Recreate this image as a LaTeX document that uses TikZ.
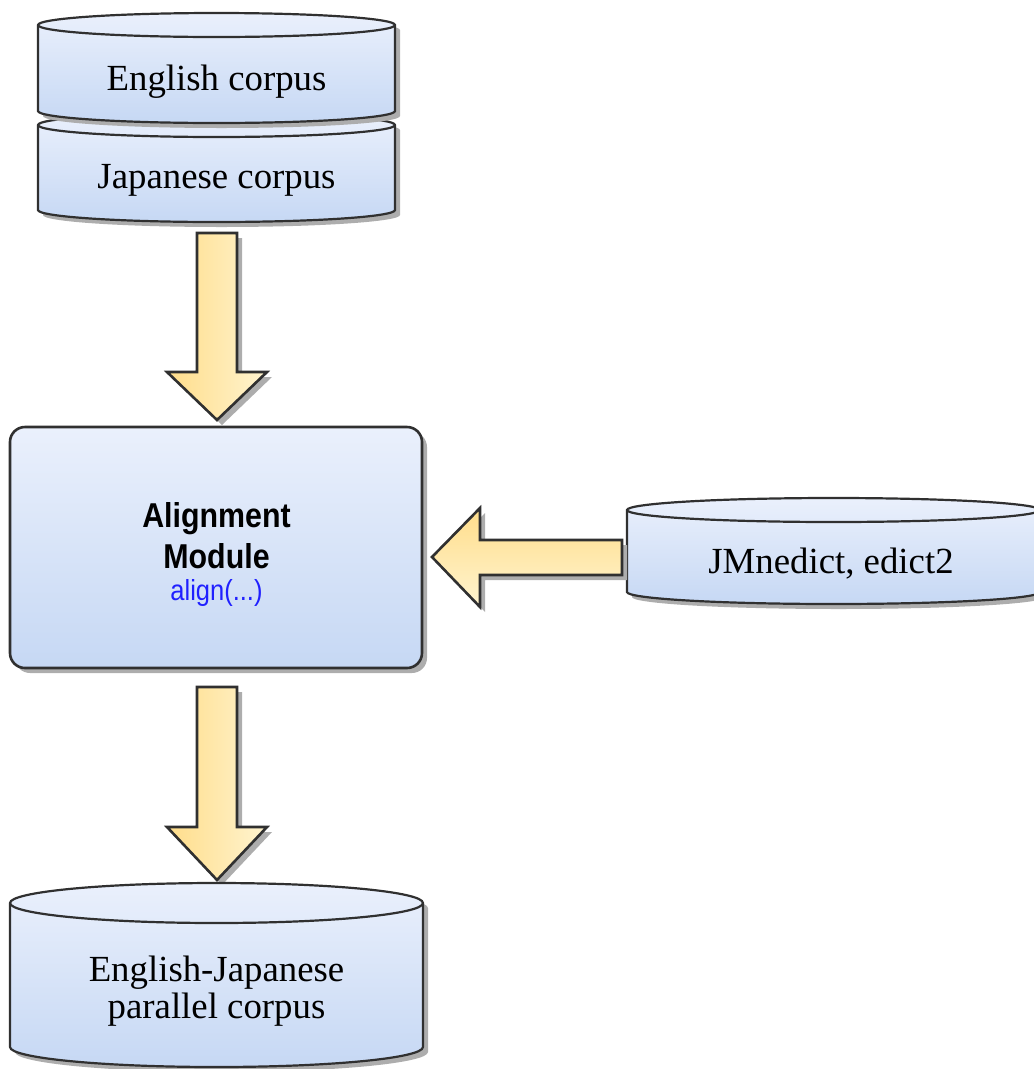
\documentclass[tikz,border=0pt]{standalone}
\usepackage{fontspec}
\setmainfont{Liberation Serif}
\newfontfamily\modfont[FakeStretch=0.88]{Liberation Sans}
\usetikzlibrary{shadows}
\definecolor{cyltop}{HTML}{EAF0FC}
\definecolor{cylbot}{HTML}{C6D8F4}
\definecolor{arrdark}{HTML}{FFDD8A}
\definecolor{arrlight}{HTML}{FFF4D0}
\definecolor{edge}{HTML}{303030}
\definecolor{codeblue}{HTML}{2020FF}
\tikzset{
  myshadow/.style={drop shadow={shadow xshift=5pt, shadow yshift=-5pt, fill=black!32, opacity=1}},
  cylstyle/.style={draw=edge, line width=2.2pt, top color=cyltop, bottom color=cylbot, myshadow},
  cylline/.style={draw=edge, line width=2.2pt},
  modbox/.style={draw=edge, line width=2.6pt, rounded corners=15pt, top color=cyltop, bottom color=cylbot, myshadow, inner sep=0pt},
  vblock/.style={draw=edge, line width=2.6pt, left color=arrdark, right color=arrlight, myshadow},
  hblock/.style={draw=edge, line width=2.6pt, top color=arrdark, bottom color=arrlight, myshadow},
  serif/.style={font=\fontsize{36.8}{36.5}\selectfont, inner sep=0pt, align=center},
  modtxt/.style={font=\modfont\bfseries\fontsize{34.5}{37}\selectfont, inner sep=0pt},
  codetxt/.style={font=\modfont\fontsize{29}{30}\selectfont, text=codeblue, inner sep=0pt}
}
% #1 x1, #2 x2, #3 y of top ellipse centre, #4 y where sides end, #5 ry (pixels, y down)
\newcommand\mycyl[5]{%
  \pgfmathsetmacro\myrx{(#2-#1)/2}%
  \path[cylstyle] (#1,-#3) -- (#1,-#4)
     arc[start angle=180,end angle=360,x radius=\myrx pt,y radius=#5pt]
     -- (#2,-#3)
     arc[start angle=0,end angle=180,x radius=\myrx pt,y radius=#5pt] -- cycle;
  \draw[cylline] (#1,-#3) arc[start angle=180,end angle=360,x radius=\myrx pt,y radius=#5pt];
}
\begin{document}
\begin{tikzpicture}[x=1pt,y=1pt]
\useasboundingbox (0,0) rectangle (1034,-1069);
% corpora stack
\mycyl{38}{395}{125}{210}{12}
\mycyl{38}{395}{25}{111}{12}
\node[serif, anchor=base] (eng) at (216.5,-90) {English corpus};
\node[serif, anchor=base] (jap) at (216.5,-188) {Japanese corpus};
% arrow down 1
\path[vblock] (197,-233) -- (237,-233) -- (237,-372) -- (267,-372) -- (217,-420)
   -- (167,-372) -- (197,-372) -- cycle;
% alignment module
\node[modbox, minimum width=412pt, minimum height=241pt] (mod) at (216,-547.5) {};
\node[modtxt, anchor=base] (modA) at (216.5,-527) {Alignment};
\node[modtxt, anchor=base] (modB) at (216.5,-568) {Module};
\node[codetxt, anchor=base] (modC) at (216.5,-600) {align(...)};
% dictionary
\mycyl{627}{1040}{510}{592}{12}
\node[serif, anchor=base] (dict) at (831,-573) {JMnedict, edict2};
% arrow left
\path[hblock] (622,-540) -- (622,-575) -- (480,-575) -- (480,-607) -- (432,-557)
   -- (480,-508) -- (480,-540) -- cycle;
% arrow down 2
\path[vblock] (197,-687) -- (237,-687) -- (237,-827) -- (267,-827) -- (217,-880)
   -- (167,-827) -- (197,-827) -- cycle;
% parallel corpus
\mycyl{10}{423}{903}{1047}{20}
\node[serif, anchor=base] (par) at (216.5,-1018) {English-Japanese\\parallel corpus};
\end{tikzpicture}
\end{document}
